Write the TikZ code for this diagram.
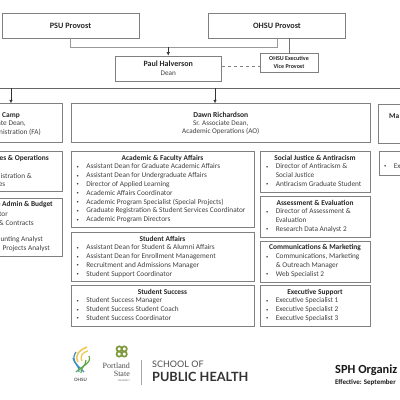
\documentclass[tikz,border=0pt]{standalone}
\usepackage{fontspec}
\setmainfont{Carlito}
\newfontfamily\logofont{Lato}
\newfontfamily\seriffont{Liberation Serif}
\usetikzlibrary{arrows.meta,positioning}
\definecolor{boxline}{HTML}{808080}
\definecolor{textgrey}{HTML}{404040}
\definecolor{ohsublue}{HTML}{3E8EC4}
\definecolor{ohsugreen}{HTML}{5FA845}
\definecolor{ohsuyellow}{HTML}{EDC64B}
\definecolor{psugreen}{HTML}{7E9A3C}
\newcommand{\bul}{\makebox[9.6pt][l]{\raisebox{.6pt}{\fontsize{4.5}{4.5}\selectfont\textbullet}}}
\newcommand{\nobul}{\hspace*{9.6pt}}

\begin{document}
\begin{tikzpicture}[
  x=1pt,y=-1pt,
  box/.style={rectangle,draw=boxline,line width=.9pt,inner sep=0pt},
  head/.style={inner sep=0pt,text=black!85,font=\fontsize{7.4}{8.8}\selectfont\bfseries},
  body/.style={inner sep=0pt,text=textgrey,align=center,font=\fontsize{7.2}{8.3}\selectfont},
  items/.style={inner sep=0pt,text=textgrey,align=left,anchor=north west,font=\fontsize{7.3}{8.8}\selectfont},
  cut/.style={inner sep=0pt,text=textgrey,anchor=east,font=\fontsize{7.3}{8.8}\selectfont},
  arr/.style={-{Latex[length=3.5pt,width=3.5pt]},line width=.5pt,black!80},
  link/.style={line width=1pt,black!40}
]
\clip (0,0) rectangle (400,400);
\fill[white] (0,0) rectangle (400,400);

% top row
\node[box,minimum width=137pt,minimum height=25pt,font=\fontsize{8.2}{9}\selectfont\bfseries,text=black!85] (psu) at (70.5,25.5) {PSU Provost};
\node[box,minimum width=137pt,minimum height=25pt,font=\fontsize{8.2}{9}\selectfont\bfseries,text=black!85] (ohsu) at (277,25.5) {OHSU Provost};
\node[box,minimum width=106.5pt,minimum height=25pt] (dean) at (168.25,68.5) {};
\node[head,font=\fontsize{8}{9}\selectfont\bfseries] (deanname) at (168.25,63.5) {Paul Halverson};
\node[body] (deantitle) at (168.25,73.5) {Dean};
\node[box,minimum width=58pt,minimum height=19pt,align=center,text=black!85,font=\fontsize{6}{7.9}\selectfont\bfseries] (evp) at (289,62.5) {OHSU Executive\\Vice Provost};

\coordinate (elbow) at (168.25,47);
\draw[link] (psu.south) |- (ohsu.south |- elbow) -- (ohsu.south);
\draw[arr] (elbow) -- (dean.north);
\draw[link,black!55] (ohsu.south -| evp.north) -- (evp.north);
\draw[boxline,dashed,line width=.5pt] (dean.east |- evp.center) ++(0,4.2) coordinate (dashend) -- (evp.west |- dashend);

% bus
\coordinate (busl) at (0,88);
\coordinate (busr) at (400,88);
\coordinate (busa) at (11,88);
\coordinate (busb) at (215,88);
\draw[line width=.8pt,black!60] (busl) -- (busr);

% second row
\node[box,minimum width=102.5pt,minimum height=38.5pt] (camp) at (11.25,123) {};
\node[box,minimum width=298.5pt,minimum height=38.5pt] (dawn) at (220.75,123) {};
\node[box,minimum width=60pt,minimum height=39pt] (ma) at (408,123.5) {};
\draw[arr] (busa) -- (busa |- camp.north);
\draw[arr] (busb) -- (busb |- dawn.north);

\node[head,anchor=east] (campname) at (20,116) {Camp};
\node[cut] (camptitlea) at (26,124) {ate Dean,};
\node[cut] (camptitleb) at (41,132) {inistration (FA)};
\node[head,font=\fontsize{7.6}{9}\selectfont\bfseries] (dawnname) at (220.75,115) {Dawn Richardson};
\node[body] (dawntitle) at (220.75,127.5) {Sr. Associate Dean,\\Academic Operations (AO)};
\node[head,anchor=west] (maname) at (389,116) {Ma};

% left column
\node[box,minimum width=102.5pt,minimum height=40pt] (ops) at (11.25,171) {};
\node[head,anchor=east] (opshead) at (49,158) {es \& Operations};
\node[cut] (opsa) at (32,176) {istration \&};
\node[cut] (opsb) at (5.5,184.5) {es};
\node[box,minimum width=102.5pt,minimum height=58pt] (budget) at (11.25,227) {};
\node[head,anchor=east] (budgethead) at (53,205) {e Admin \& Budget};
\node[cut] (budgeta) at (8,214) {tor};
\node[cut] (budgetb) at (34,222.7) {\& Contracts};
\node[cut] (budgetc) at (43,240) {unting Analyst};
\node[cut] (budgetd) at (50,249) {Projects Analyst};

% middle column
\node[box,minimum width=183pt,minimum height=76.5pt] (acad) at (162.5,189.25) {};
\node[head] (acadhead) at (162.5,158) {Academic \& Faculty Affairs};
\node[items] (acaditems) at (76.5,163.7) {\bul Assistant Dean for Graduate Academic Affairs\\
\bul Assistant Dean for Undergraduate Affairs\\
\bul Director of Applied Learning\\
\bul Academic Affairs Coordinator\\
\bul Academic Program Specialist (Special Projects)\\
\bul Graduate Registration \& Student Services Coordinator\\
\bul Academic Program Directors};
\node[box,minimum width=183pt,minimum height=49pt] (stud) at (162.5,256.5) {};
\node[head] (studhead) at (162.5,239) {Student Affairs};
\node[items] (studitems) at (76.5,244.6) {\bul Assistant Dean for Student \& Alumni Affairs\\
\bul Assistant Dean for Enrollment Management\\
\bul Recruitment and Admissions Manager\\
\bul Student Support Coordinator};
\node[box,minimum width=183pt,minimum height=41.5pt] (succ) at (162.5,306) {};
\node[head] (succhead) at (162.5,292) {Student Success};
\node[items] (succitems) at (76.5,297.6) {\bul Student Success Manager\\
\bul Student Success Student Coach\\
\bul Student Success Coordinator};

% right column
\node[box,minimum width=110pt,minimum height=41pt] (just) at (315,171.5) {};
\node[head] (justhead) at (315,158) {Social Justice \& Antiracism};
\node[items] (justitems) at (266,163.7) {\bul Director of Antiracism \&\\
\nobul Social Justice\\
\bul Antiracism Graduate Student};
\node[box,minimum width=110pt,minimum height=41pt] (eval) at (315,216.5) {};
\node[head] (evalhead) at (315,203) {Assessment \& Evaluation};
\node[items] (evalitems) at (266,208.7) {\bul Director of Assessment \&\\
\nobul Evaluation\\
\bul Research Data Analyst 2};
\node[box,minimum width=110pt,minimum height=41pt] (comm) at (315,261.5) {};
\node[head] (commhead) at (315,248) {Communications \& Marketing};
\node[items] (commitems) at (266,253.7) {\bul Communications, Marketing\\
\nobul \& Outreach Manager\\
\bul Web Specialist 2};
\node[box,minimum width=110pt,minimum height=41pt] (exec) at (315,305.5) {};
\node[head] (exechead) at (315,292) {Executive Support};
\node[items] (execitems) at (266,297.7) {\bul Executive Specialist 1\\
\bul Executive Specialist 2\\
\bul Executive Specialist 3};
\node[box,minimum width=60pt,minimum height=24pt] (far) at (409,163) {};
\node[items] (faritems) at (384,163.7) {\bul Ex};

% logos
\foreach \a in {0,90,180,270}
  \draw[psugreen,line width=1.7pt] (121.7,351.5) ++(\a+45:3.6) circle (2.6);
\draw[ohsuyellow,line width=1.5pt] (78,362) .. controls (74,354) and (80,350) .. (87,347);
\draw[ohsuyellow,line width=1.2pt] (82,361) .. controls (79,355) and (84,352) .. (88,351);
\draw[ohsublue,line width=1.2pt] (76,352) .. controls (70,360) and (78,366) .. (84,372);
\draw[ohsublue,line width=1.2pt] (73,358) .. controls (74,364) and (80,366) .. (79,372);
\draw[ohsugreen,line width=1.2pt] (89,356) .. controls (92,363) and (82,366) .. (76,372);
\draw[ohsugreen,line width=1.2pt] (86,360) .. controls (86,366) and (80,368) .. (81,373);
\node[inner sep=0pt,text=black!65,font=\logofont\fontsize{4.5}{5}\selectfont\bfseries] (ohsulogo) at (80.5,379.5) {OHSU};
\node[inner sep=0pt,anchor=east,text=black!70,font=\seriffont\fontsize{8}{8}\selectfont] (psuname) at (130,365.5) {Portland};
\node[inner sep=0pt,anchor=east,text=black!70,font=\seriffont\fontsize{8}{8}\selectfont] (psustate) at (130,374) {State};
\node[inner sep=0pt,anchor=east,text=black!60,font=\fontsize{2.5}{3}\selectfont] (psuuni) at (130,380.5) {UNIVERSITY};
\coordinate (sepa) at (141,360);
\coordinate (sepb) at (141,385);
\draw[black!35,line width=.6pt] (sepa) -- (sepb);
\node[inner sep=0pt,anchor=west,text=black!70,font=\logofont\fontsize{9}{10}\selectfont] (school) at (152,364) {SCHOOL OF};
\node[inner sep=0pt,anchor=west,text=black!80,font=\logofont\fontsize{12.7}{14}\selectfont\bfseries] (health) at (152,377) {PUBLIC HEALTH};
\node[inner sep=0pt,anchor=west,text=black!90,font=\fontsize{12.4}{14}\selectfont\bfseries] (orgtitle) at (335,370) {SPH Organiz};
\node[inner sep=0pt,anchor=west,text=black!90,font=\fontsize{7}{8}\selectfont\bfseries] (effective) at (335,383) {Effective: September};
\end{tikzpicture}
\end{document}
